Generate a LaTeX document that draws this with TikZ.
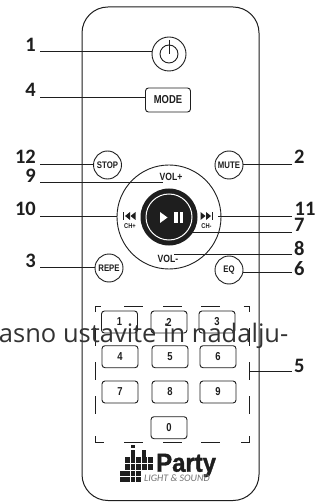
\documentclass[tikz,border=0pt]{standalone}
\usepackage{fontspec}
\setmainfont{Liberation Sans}
\newfontfamily\numfont{Carlito}[Scale=1]
\newfontfamily\btnfont[FakeStretch=0.82]{Liberation Sans}
\newfontfamily\overfont{Open Sans}
\newfontfamily\subfont{Carlito}
\newfontfamily\partyfont[FakeStretch=0.92,BoldFeatures={FakeBold=1.2}]{Liberation Sans}
\definecolor{ink}{HTML}{1E1E1E}
\tikzset{
  outl/.style={draw=ink,line width=0.9pt},
  leader/.style={draw=ink,line width=0.9pt},
  dashpart/.style={draw=ink,line width=0.8pt},
  numlab/.style={inner sep=0pt,text=ink,font=\numfont\fontsize{20.5}{20}\selectfont\bfseries},
  roundbtn/.style={circle,outl,fill=white,minimum size=28pt,inner sep=0pt,text=ink,font=\btnfont\fontsize{9.5}{10}\selectfont\bfseries},
  keybtn/.style={rectangle,rounded corners=3pt,outl,fill=white,minimum width=36pt,minimum height=22pt,inner sep=0pt,text=ink,font=\btnfont\fontsize{11.5}{11}\selectfont\bfseries},
  tag/.style={inner sep=0pt,text=ink,anchor=base,font=\btnfont\fontsize{10.5}{11}\selectfont\bfseries},
  smalltag/.style={inner sep=0pt,text=ink,anchor=base,font=\btnfont\fontsize{7}{7}\selectfont\bfseries}
}
\begin{document}
\begin{tikzpicture}[x=1pt,y=-1pt]
\useasboundingbox (0,0) rectangle (325,502);
\clip (0,0) rectangle (325,502);
\fill[white] (0,0) rectangle (325,502);
% body
\draw[outl,line width=1pt,rounded corners=26pt] (82,7) rectangle (259,500.5);
% dashed frame
\draw[dashpart] (95.5,312) -- (95.5,306) -- (101,306);
\draw[dashpart] (243.5,306) -- (249,306) -- (249,312);
\draw[dashpart] (95.5,436) -- (95.5,442.5) -- (104,442.5);
\draw[dashpart] (241,442.5) -- (249,442.5) -- (249,436);
\foreach \a/\b in {124/143,163/182,201/220}{\draw[dashpart] (\a,306) -- (\b,306);}
\foreach \a/\b in {124/143,163/182,201/220}{\draw[dashpart] (\a,442.5) -- (\b,442.5);}
\foreach \a/\b in {328/346,362/380,396/414}{\draw[dashpart] (95.5,\a) -- (95.5,\b); \draw[dashpart] (249,\a) -- (249,\b);}
% power
\node[circle,outl,minimum size=34pt,inner sep=0pt] (power) at (169,54) {};
\node[circle,outl,minimum size=18pt,inner sep=0pt] (powerin) at (169,54) {};
\coordinate (stemtop) at (169,40);
\draw[outl] (stemtop) -- (power.center);
% mode
\node[keybtn,minimum width=45pt,minimum height=24pt,font=\btnfont\fontsize{11.5}{12}\selectfont\bfseries] (mode) at (168,100) {MODE};
% round
\node[roundbtn] (stop) at (107.5,165) {STOP};
\node[roundbtn] (mute) at (229,165) {MUTE};
\node[roundbtn] (repe) at (109,268) {REPE};
\node[roundbtn] (eq) at (229,270) {EQ};
% dial
\node[circle,outl,minimum size=104pt,inner sep=0pt] (dial) at (169,217) {};
\node[circle,fill=ink,minimum size=57pt,inner sep=0pt] (play) at (169,217) {};
\node[circle,draw=white,line width=1pt,minimum size=46pt,inner sep=0pt] (ring) at (169,217) {};
\fill[white] (160,212) -- (167.5,217.5) -- (160,223) -- cycle;
\fill[white] (174,212) rectangle (177.5,223);
\fill[white] (179.5,212) rectangle (183,223);
\node[tag] (volp) at (171,180.7) {VOL+};
\node[tag] (volm) at (168,262.3) {VOL-};
\node[smalltag] (chp) at (130,229) {CH+};
\node[smalltag] (chm) at (206.5,229) {CH-};
% skip icons
\fill[ink] (123.3,212) rectangle (124.3,220);
\fill[ink] (130,212) -- (125,216) -- (130,220) -- cycle;
\fill[ink] (135.5,212) -- (130.5,216) -- (135.5,220) -- cycle;
\fill[ink] (200.5,212) -- (205.5,216) -- (200.5,220) -- cycle;
\fill[ink] (206,212) -- (211,216) -- (206,220) -- cycle;
\fill[ink] (212,212) rectangle (213,220);
% keys
\node[keybtn] (k1) at (119.5,322) {1};
\node[keybtn] (k2) at (169,322) {2};
\node[keybtn] (k3) at (217,322) {3};
\node[keybtn] (k4) at (120,356.7) {4};
\node[keybtn] (k5) at (170,356.7) {5};
\node[keybtn] (k6) at (218,356.7) {6};
\node[keybtn] (k7) at (120,392) {7};
\node[keybtn] (k8) at (170,392) {8};
\node[keybtn] (k9) at (218,392) {9};
\node[keybtn] (k0) at (169,427.7) {0};
% labels and leaders
\node[numlab,anchor=base east] (n1) at (36,51.5) {1};
\node[numlab,anchor=base east] (n4) at (36,97) {4};
\node[numlab,anchor=base east] (n12) at (36,164) {12};
\node[numlab,anchor=base east] (n9) at (36,182.7) {9};
\node[numlab,anchor=base east] (n10) at (36,216) {10};
\node[numlab,anchor=base east] (n3) at (36,267.7) {3};
\node[numlab,anchor=base west] (n2) at (294,164) {2};
\node[numlab,anchor=base west] (n11) at (294.5,216) {11};
\node[numlab,anchor=base west] (n7) at (294,232) {7};
\node[numlab,anchor=base west] (n8) at (294,255) {8};
\node[numlab,anchor=base west] (n6) at (294,275) {6};
\node[numlab,anchor=base west] (n5) at (294,372) {5};
\coordinate (a1) at (40,51.7);
\coordinate (a4) at (40,97.5);
\coordinate (a12) at (40,164.5);
\coordinate (a9) at (40,182.7);
\coordinate (a10) at (40,216);
\coordinate (a3) at (40,267.7);
\coordinate (a2) at (292,164.5);
\coordinate (a11) at (292,216);
\coordinate (a7) at (292,232.3);
\coordinate (a8) at (292,254.3);
\coordinate (a6) at (292,272);
\coordinate (a5) at (292,371.7);
\coordinate (e9) at (163,182.7);
\coordinate (e11) at (218,216);
\coordinate (e7) at (188,232.3);
\coordinate (e8) at (174,254.3);
\coordinate (e5) at (250,371.7);
\draw[leader] (a1) -- (a1 -| power.west);
\draw[leader] (a4) -- (a4 -| mode.west);
\draw[leader] (a12) -- (a12 -| stop.west);
\draw[leader] (a9) -- (e9);
\draw[leader] (a10) -- (a10 -| dial.west);
\draw[leader] (a3) -- (a3 -| repe.west);
\draw[leader] (a2) -- (a2 -| mute.east);
\draw[leader] (a11) -- (e11);
\draw[leader] (a7) -- (e7);
\draw[leader] (a8) -- (e8);
\draw[leader] (a6) -- (a6 -| eq.east);
\draw[leader] (a5) -- (e5);
% logo
\fill[ink] (120,470) rectangle (141,481.7);
\fill[ink] (125,457) rectangle (153,470);
\fill[ink] (130.7,445) rectangle (134.7,448);
\fill[ink] (130.7,449.5) rectangle (134.7,457);
\fill[ink] (142,450) rectangle (145.5,457);
\draw[white,line width=0.6pt] (124,463.5) -- (154,463.5) (119,470) -- (142,470) (119,476) -- (142,476) (130,457) -- (130,482) (135.5,457) -- (135.5,482) (141,457) -- (141,470) (147,457) -- (147,470);
\node[inner sep=0pt,anchor=base west,text=ink,font=\partyfont\fontsize{26}{26}\selectfont\bfseries] (party) at (156,471.7) {Party};
\node[inner sep=0pt,anchor=base west,text=black!55,font=\subfont\fontsize{10}{10}\selectfont\itshape] (light) at (144,481.5) {LIGHT \& SOUND};
% overlay text
\node[inner sep=0pt,anchor=base east,text=black!80,font=\overfont\fontsize{25.5}{26}\selectfont] (over) at (288.5,342.7) {asno ustavite in nadalju-};
\end{tikzpicture}
\end{document}
